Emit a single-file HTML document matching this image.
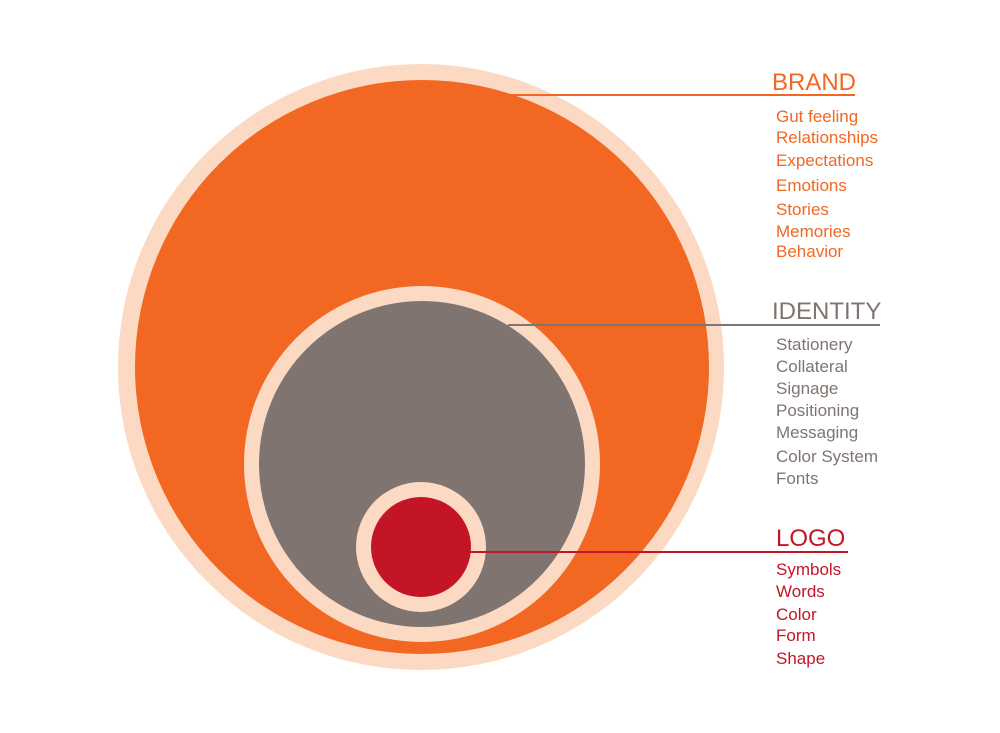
<!DOCTYPE html>
<html><head><meta charset="utf-8"><style>
html,body{margin:0;padding:0;background:#fff;}
svg{display:block;}
text{font-family:"Liberation Sans",sans-serif;}
</style></head><body>
<svg width="1000" height="733" viewBox="0 0 1000 733">
<circle cx="421" cy="367" r="303" fill="#fbd9c2"/>
<circle cx="422" cy="367" r="287" fill="#f26722"/>
<circle cx="422" cy="464" r="178" fill="#fbd9c2"/>
<circle cx="422" cy="464" r="163" fill="#807470"/>
<circle cx="421" cy="547" r="65" fill="#fbd9c2"/>
<circle cx="421" cy="547" r="50" fill="#c41526"/>
<line x1="500" y1="95" x2="855" y2="95" stroke="#f26722" stroke-width="2"/>
<line x1="508" y1="325" x2="880" y2="325" stroke="#807470" stroke-width="2"/>
<line x1="470" y1="552" x2="848" y2="552" stroke="#c41526" stroke-width="2"/>
<g fill="#f26722">
<text x="772" y="90" font-size="24">BRAND</text>
<g font-size="17">
<text x="776" y="122">Gut feeling</text>
<text x="776" y="143">Relationships</text>
<text x="776" y="166">Expectations</text>
<text x="776" y="191">Emotions</text>
<text x="776" y="215">Stories</text>
<text x="776" y="237">Memories</text>
<text x="776" y="257">Behavior</text>
</g></g>
<g fill="#807470">
<text x="772" y="319" font-size="24">IDENTITY</text>
<g font-size="17">
<text x="776" y="350">Stationery</text>
<text x="776" y="372">Collateral</text>
<text x="776" y="394">Signage</text>
<text x="776" y="416">Positioning</text>
<text x="776" y="438">Messaging</text>
<text x="776" y="462">Color System</text>
<text x="776" y="484">Fonts</text>
</g></g>
<g fill="#c41526">
<text x="776" y="546" font-size="24">LOGO</text>
<g font-size="17">
<text x="776" y="575">Symbols</text>
<text x="776" y="597">Words</text>
<text x="776" y="620">Color</text>
<text x="776" y="641">Form</text>
<text x="776" y="664">Shape</text>
</g></g>
</svg>
</body></html>
